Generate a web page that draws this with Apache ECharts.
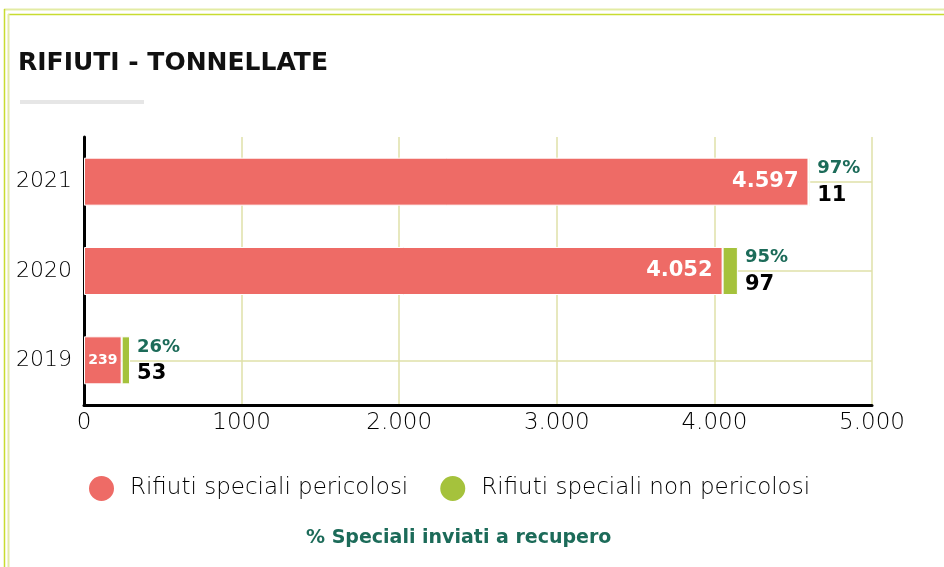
<!DOCTYPE html>
<html>
<head>
<meta charset="utf-8">
<script src="https://cdn.jsdelivr.net/npm/echarts@6/dist/echarts.min.js"></script>
<style>
  html, body { margin: 0; padding: 0; background: #fff; }
  #rifiuti { width: 944px; height: 567px; }
</style>
</head>
<body>
<div id="rifiuti"></div>
<script>
// dati (ordine: dal basso verso l'alto)
var anni = ['2019', '2020', '2021'];
var pericolosi = [239, 4052, 4597];
var nonPericolosi = [53, 97, 11];
var percRecupero = [26, 95, 97];
var xTickLabels = ['0', '1000', '2.000', '3.000', '4.000', '5.000'];

var ROSSO = '#ee6b66';
var VERDE = '#a5c23c';
var TEAL = '#1c6b59';
var GRIGLIA = '#dfe0a8';
var FONT = 'DejaVu Sans';

function fmt(n) {
  return String(n).replace(/\B(?=(\d{3})+(?!\d))/g, '.');
}

var datiRossi = pericolosi.map(function (v) {
  if (v < 1000) {
    return { value: v, label: { position: 'inside', fontSize: 14, fontWeight: 'bold' } };
  }
  return v;
});

var option = {
  backgroundColor: '#fff',
  animation: false,
  textStyle: { fontFamily: FONT },
  title: {
    text: 'RIFIUTI - TONNELLATE',
    left: 13,
    top: 46,
    textStyle: { fontSize: 25, fontWeight: 'bold', color: '#111', fontFamily: FONT }
  },
  graphic: [
    { type: 'line', shape: { x1: 4, y1: 9.5, x2: 944, y2: 9.5 }, style: { stroke: '#e3eba4', lineWidth: 2 } },
    { type: 'line', shape: { x1: 4.5, y1: 9, x2: 4.5, y2: 567 }, style: { stroke: '#c8dc30', lineWidth: 1.5 } },
    { type: 'line', shape: { x1: 8, y1: 14.5, x2: 944, y2: 14.5 }, style: { stroke: '#c8dc30', lineWidth: 1.5 } },
    { type: 'line', shape: { x1: 8.5, y1: 14, x2: 8.5, y2: 567 }, style: { stroke: '#e3eba4', lineWidth: 2 } },
    { type: 'rect', shape: { x: 20, y: 100, width: 124, height: 4 }, style: { fill: '#e6e6e6' } },
    {
      type: 'text', left: 306, top: 529,
      style: { text: '% Speciali inviati a recupero', fill: TEAL, font: 'bold 19px ' + FONT }
    }
  ],
  legend: {
    left: 82,
    top: 469,
    icon: 'circle',
    itemWidth: 27,
    itemHeight: 27,
    itemGap: 30,
    data: ['Rifiuti speciali pericolosi', 'Rifiuti speciali non pericolosi'],
    textStyle: { fontSize: 23, fontWeight: 300, color: '#000', padding: [0, 0, 0, 10] }
  },
  grid: { left: 84, right: 72, top: 137, bottom: 162 },
  xAxis: {
    type: 'value',
    min: 0,
    max: 5000,
    interval: 1000,
    axisLine: { show: true, onZero: false, lineStyle: { color: '#000', width: 3 } },
    axisTick: { show: false },
    axisLabel: {
      fontSize: 23, fontWeight: 300, color: '#000', margin: 7,
      formatter: function (v) { return xTickLabels[Math.round(v / 1000)]; }
    },
    splitLine: { show: true, lineStyle: { color: GRIGLIA, width: 1.5 } }
  },
  yAxis: {
    type: 'category',
    data: anni,
    axisLine: { show: true, lineStyle: { color: '#000', width: 3 } },
    axisTick: { show: false },
    axisLabel: { fontSize: 22, fontWeight: 300, color: '#000', margin: 12 },
    splitLine: { show: false }
  },
  series: [
    {
      name: 'Rifiuti speciali pericolosi',
      type: 'bar',
      stack: 'tot',
      barWidth: 48,
      z: 3,
      itemStyle: { color: ROSSO, borderColor: '#fff', borderWidth: 1 },
      label: {
        show: true,
        position: 'insideRight',
        distance: 10,
        color: '#fff',
        fontSize: 21,
        fontWeight: 600,
        formatter: function (p) { return fmt(p.value); }
      },
      data: datiRossi
    },
    {
      name: 'Rifiuti speciali non pericolosi',
      type: 'bar',
      stack: 'tot',
      barWidth: 48,
      z: 3,
      itemStyle: { color: VERDE, borderColor: '#fff', borderWidth: 1 },
      label: {
        show: true,
        position: 'right',
        distance: 7,
        align: 'left',
        formatter: function (p) {
          return '{p|' + percRecupero[p.dataIndex] + '%}\n{v|' + fmt(p.value) + '}';
        },
        rich: {
          p: { fontSize: 18, fontWeight: 'bold', color: TEAL, lineHeight: 27 },
          v: { fontSize: 21, fontWeight: 'bold', color: '#000', lineHeight: 27 }
        }
      },
      markLine: {
        silent: true,
        z: 1,
        symbol: 'none',
        label: { show: false },
        lineStyle: { color: GRIGLIA, width: 1.5, type: 'solid' },
        data: anni.map(function (a) { return { yAxis: a }; })
      },
      data: nonPericolosi
    }
  ]
};

var chart = echarts.init(document.getElementById('rifiuti'));
chart.setOption(option);
</script>
</body>
</html>
